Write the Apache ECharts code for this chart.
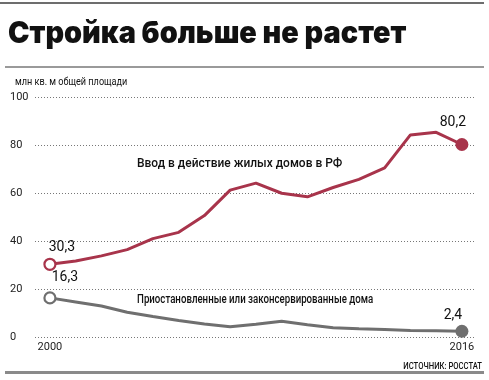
<!DOCTYPE html>
<html><head><meta charset="utf-8">
<script src="https://cdn.jsdelivr.net/npm/echarts@6/dist/echarts.min.js"></script>
<style>html,body{margin:0;padding:0;background:#fff}#c{width:489px;height:380px}</style>
</head><body><div id="c"></div>
<script>
const years = [2000,2001,2002,2003,2004,2005,2006,2007,2008,2009,2010,2011,2012,2013,2014,2015,2016];
const housingCommissioned = [30.3,31.7,33.8,36.4,41.0,43.6,50.6,61.2,64.1,59.9,58.4,62.3,65.7,70.5,84.2,85.3,80.2];
const suspendedHouses = [16.3,14.6,12.9,10.3,8.5,6.9,5.4,4.3,5.3,6.6,5.1,3.9,3.4,3.1,2.7,2.6,2.4];
const yTicks = [0,20,40,60,80,100];
const xTickLabels = [2000,2016];
const seriesNames = ['Ввод в действие жилых домов в РФ','Приостановленные или законсервированные дома'];

const RED = '#a8344b', GRAY = '#6f6f6f';
const FONT = 'Roboto, "Liberation Sans", sans-serif';

function build(vals, color, lab0, labN) {
  const last = vals.length - 1;
  return vals.map((v, i) => {
    const item = { value: [years[i], v], symbol: 'none' };
    if (i === 0) {
      item.symbol = 'circle'; item.symbolSize = 11;
      item.itemStyle = { color: '#fff', borderColor: color, borderWidth: 2.2 };
      item.label = { show: true, position: 'top', distance: lab0.d, offset: [lab0.x, 0] };
    } else if (i === last) {
      item.symbol = 'circle'; item.symbolSize = 13;
      item.itemStyle = { color: color, borderWidth: 0 };
      item.label = { show: true, position: 'top', distance: labN.d, offset: [labN.x, 0] };
    }
    return item;
  });
}

const chart = echarts.init(document.getElementById('c'), null, { renderer: 'canvas' });
const valLabel = {
  show: false, fontFamily: FONT, fontSize: 14, color: '#111',
  formatter: p => String(p.value[1]).replace('.', ',')
};
function txt(x, y, text, font, sx, align) {
  return { type: 'text', x: x, y: y, scaleX: sx, style: { text: text, font: font, fill: '#111', align: align || 'left', verticalAlign: 'middle' } };
}
chart.setOption({
  animation: false,
  backgroundColor: '#fff',
  grid: { left: 35, right: 15, top: 97, bottom: 43 },
  xAxis: {
    type: 'value', min: 1999.42, max: 2016.47,
    axisLine: { show: false }, axisTick: { show: false }, splitLine: { show: false },
    axisLabel: { customValues: xTickLabels, fontFamily: FONT, fontSize: 11, color: '#222', margin: 5,
      formatter: v => String(v) }
  },
  yAxis: {
    type: 'value', min: 0, max: 100, interval: 20,
    axisLine: { show: false }, axisTick: { show: false },
    axisLabel: { fontFamily: FONT, fontSize: 11, color: '#222', align: 'left', margin: 25 },
    splitLine: { lineStyle: { type: [1, 2], color: '#777', width: 1 } }
  },
  series: [
    { type: 'line', name: seriesNames[0], data: build(housingCommissioned, RED, {d:3,x:12}, {d:9,x:-9}),
      lineStyle: { color: RED, width: 3 }, itemStyle: { color: RED }, label: valLabel, z: 3 },
    { type: 'line', name: seriesNames[1], data: build(suspendedHouses, GRAY, {d:7,x:15}, {d:2,x:-9}),
      lineStyle: { color: GRAY, width: 3 }, itemStyle: { color: GRAY }, label: valLabel, z: 3 }
  ],
  graphic: [
    { type: 'rect', shape: { x: 0, y: 2, width: 484, height: 2 }, style: { fill: '#6d6d6d' } },
    txt(8, 34, 'Стройка больше не растет', '900 30px Inter, Roboto, sans-serif', 0.962),
    { type: 'rect', shape: { x: 5, y: 66, width: 479, height: 2 }, style: { fill: '#9a9a9a' } },
    txt(15, 82, 'млн кв. м общей площади', '10px ' + FONT, 0.91),
    txt(137, 164, seriesNames[0], '500 13px ' + FONT, 0.92),
    txt(137, 300, seriesNames[1], '500 13px ' + FONT, 0.745),
    txt(482, 367, 'ИСТОЧНИК: РОССТАТ', '500 9px ' + FONT, 0.85, 'right'),
    { type: 'rect', shape: { x: 5, y: 371, width: 479, height: 3 }, style: { fill: '#8a8a8a' } }
  ]
});
</script></body></html>
